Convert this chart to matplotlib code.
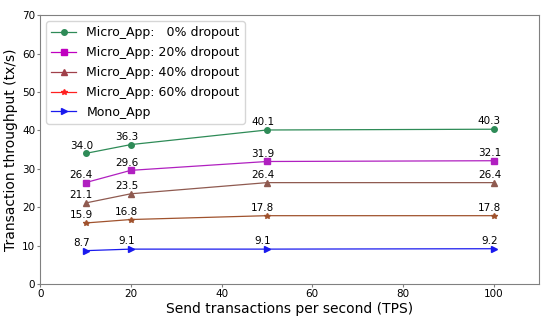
import matplotlib.pyplot as plt

tps = [10, 20, 50, 100]
micro_0 = [34.0, 36.3, 40.1, 40.3]
micro_20 = [26.4, 29.6, 31.9, 32.1]
micro_40 = [21.1, 23.5, 26.4, 26.4]
micro_60 = [15.9, 16.8, 17.8, 17.8]
mono = [8.7, 9.1, 9.1, 9.2]

labels = ["Micro_App:   0% dropout", "Micro_App: 20% dropout", "Micro_App: 40% dropout",
          "Micro_App: 60% dropout", "Mono_App"]
series = [micro_0, micro_20, micro_40, micro_60, mono]
colors = ['#2e8b57', '#b020c0', '#8f5a50', '#a0522d', '#1a1aee']
markers = ['o', 's', '^', '*', '>']

fig, ax = plt.subplots(figsize=(5.5, 3.21), dpi=100)
for ys, lab, c, m in zip(series, labels, colors, markers):
    ax.plot(tps, ys, color=c, marker=m, markersize=4, linewidth=0.9, label=lab)
    for x, y in zip(tps, ys):
        ax.annotate(f"{y:.1f}", (x, y), textcoords="offset points", xytext=(-3, 2),
                    ha='center', va='bottom', fontsize=7.5)

ax.set_xlim(0, 110)
ax.set_ylim(0, 70)
ax.set_xlabel("Send transactions per second (TPS)", fontsize=10, labelpad=2)
ax.set_ylabel("Transaction throughput (tx/s)", fontsize=10, labelpad=3)
ax.tick_params(labelsize=7.5, length=2, pad=1.5, color='gray')
for s in ax.spines.values():
    s.set_color('gray')

leg = ax.legend(loc='upper left', fontsize=9, handlelength=2.0, borderpad=0.4,
                labelspacing=0.55, handletextpad=0.8)
# legend colours in the original differ a bit from the drawn lines
leg_colors = ['#2e8b57', '#c000c0', '#a0404a', '#ff2020', '#1a1aee']
for h, c in zip(leg.legend_handles, leg_colors):
    h.set_color(c)

plt.subplots_adjust(left=0.073, right=0.98, top=0.953, bottom=0.115)
plt.savefig("out.png")
